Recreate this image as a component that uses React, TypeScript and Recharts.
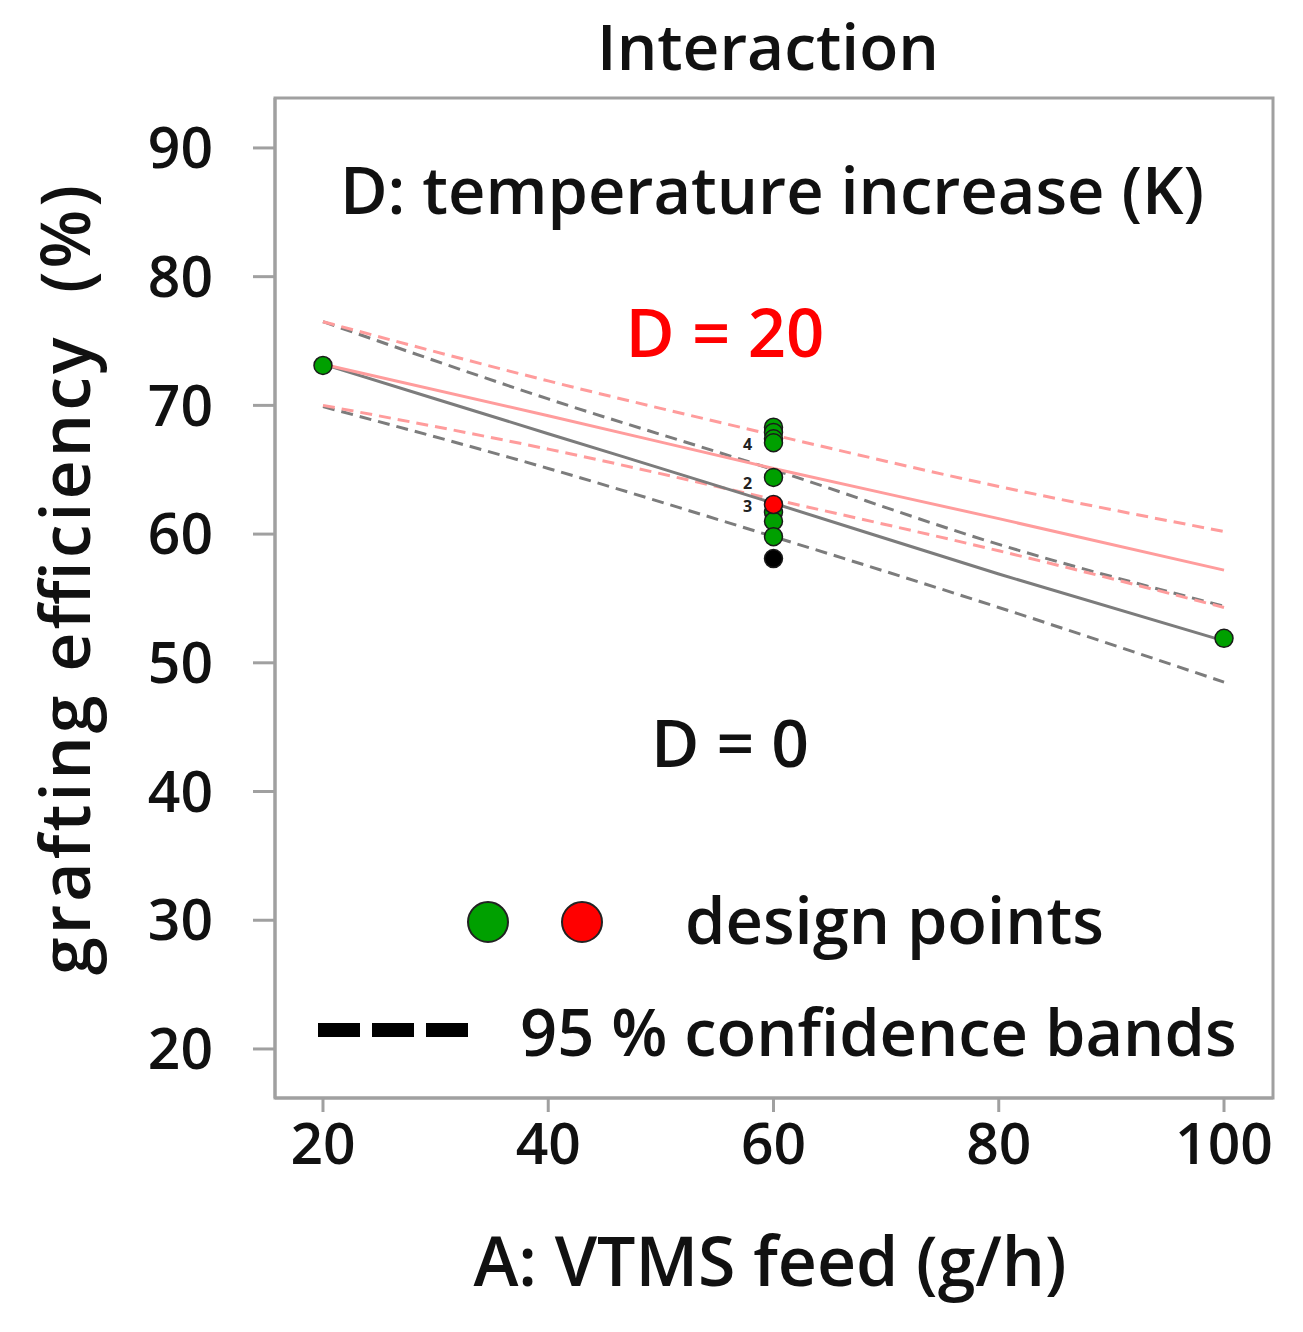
import React from 'react'
import { ComposedChart, Line, Scatter, XAxis, YAxis, ReferenceArea } from 'recharts'

// A: VTMS feed (g/h) positions where the curves were read
const feed = [20, 40, 60, 80, 100]

// D = 0 (grey) fit and 95 % band
const d0Fit = [73.2, 67.8, 62.4, 56.9, 51.7]
const d0Lower = [69.9, 65.1, 59.8, 54.3, 48.5]
const d0Upper = [76.5, 70.5, 65.0, 59.2, 54.4]

// D = 20 (red) fit and 95 % band
const d20Fit = [73.2, 69.2, 65.1, 61.2, 57.2]
const d20Lower = [70.0, 66.6, 62.7, 58.7, 54.3]
const d20Upper = [76.5, 71.9, 67.7, 63.7, 60.2]

// design points
const greenX = [20, 60, 60, 60, 60, 60, 60, 60, 60, 100]
const greenY = [73.1, 68.3, 67.9, 67.4, 67.1, 64.4, 61.7, 61.0, 59.8, 51.9]
const redX = [60]
const redY = [62.3]
const blackX = [60]
const blackY = [58.1]

// overlap counts shown beside the centre points
const countY = [67.0, 64.0, 62.2]
const countText = ['4', '2', '3']

const xTicks = [20, 40, 60, 80, 100]
const yTicks = [20, 30, 40, 50, 60, 70, 80, 90]

const series = (ys: number[]) => feed.map((x, i) => ({ x, y: ys[i] }))
const points = (xs: number[], ys: number[]) => xs.map((x, i) => ({ x, y: ys[i] }))

const FONT = "'Open Sans', Lato, sans-serif"
const AXIS = '#a0a0a0'
const GREY = '#7c7c7c'
const PINK = '#ff9c9c'

const dot = (fill: string) => (p: any) => (
  <circle cx={p.cx} cy={p.cy} r={9} fill={fill} stroke="#1a1a1a" strokeWidth={1.5} />
)

const countShape = (p: any) => (
  <text x={p.cx - 26} y={p.cy + 6} fontSize={16} fontWeight={700} fontFamily={FONT} fill="#222" textAnchor="middle">
    {p.payload.label}
  </text>
)

export default function App() {
  const tick = { fontSize: 57, fontWeight: 600, fontFamily: FONT, fill: '#111' }
  const counts = countY.map((y, i) => ({ x: 60, y, label: countText[i] }))

  return (
    <div style={{ position: 'absolute', left: 0, top: 0, width: 1303, height: 1332, background: '#fff' }}>
      <ComposedChart width={1303} height={1332} margin={{ top: 98, right: 30, bottom: 84, left: 75 }}>
        <XAxis
          type="number"
          dataKey="x"
          domain={[15.74, 104.35]}
          ticks={xTicks}
          allowDataOverflow
          height={150}
          tickSize={14}
          tickMargin={12}
          stroke={AXIS}
          strokeWidth={3}
          tick={tick}
        />
        <YAxis
          type="number"
          domain={[16.19, 93.88]}
          ticks={yTicks}
          allowDataOverflow
          width={200}
          tickSize={22}
          tickMargin={40}
          stroke={AXIS}
          strokeWidth={3}
          tick={tick}
        />
        <ReferenceArea x1={15.74} x2={104.35} y1={16.19} y2={93.88} fill="none" stroke={AXIS} strokeWidth={3} />

        <Line data={series(d0Upper)} dataKey="y" type="monotone" stroke={GREY} strokeWidth={3} strokeDasharray="12 7" dot={false} isAnimationActive={false} />
        <Line data={series(d0Lower)} dataKey="y" type="monotone" stroke={GREY} strokeWidth={3} strokeDasharray="12 7" dot={false} isAnimationActive={false} />
        <Line data={series(d20Upper)} dataKey="y" type="monotone" stroke={PINK} strokeWidth={3} strokeDasharray="12 7" dot={false} isAnimationActive={false} />
        <Line data={series(d20Lower)} dataKey="y" type="monotone" stroke={PINK} strokeWidth={3} strokeDasharray="12 7" dot={false} isAnimationActive={false} />
        <Line data={series(d0Fit)} dataKey="y" type="monotone" stroke={GREY} strokeWidth={3} dot={false} isAnimationActive={false} />
        <Line data={series(d20Fit)} dataKey="y" type="monotone" stroke={PINK} strokeWidth={3} dot={false} isAnimationActive={false} />

        <Scatter data={points(greenX, greenY)} dataKey="y" shape={dot('#00a000')} isAnimationActive={false} />
        <Scatter data={points(redX, redY)} dataKey="y" shape={dot('#ff0000')} isAnimationActive={false} />
        <Scatter data={points(blackX, blackY)} dataKey="y" shape={dot('#000000')} isAnimationActive={false} />
        <Scatter data={counts} dataKey="y" shape={countShape} isAnimationActive={false} />
      </ComposedChart>

      <svg width={1303} height={1332} style={{ position: 'absolute', left: 0, top: 0, pointerEvents: 'none' }} fontFamily={FONT} fontWeight={600}>
        <text x={768} y={70} fontSize={64} textAnchor="middle" fill="#111">Interaction</text>
        <text x={772} y={214} fontSize={65} textAnchor="middle" fill="#111">D: temperature increase (K)</text>
        <text x={725} y={357} fontSize={67} textAnchor="middle" fill="#ff0000">D = 20</text>
        <text x={730} y={767} fontSize={66} textAnchor="middle" fill="#111">D = 0</text>

        <circle cx={488} cy={922} r={20} fill="#00a000" stroke="#222" strokeWidth={2} />
        <circle cx={582} cy={922} r={20} fill="#ff0000" stroke="#222" strokeWidth={2} />
        <text x={685} y={944} fontSize={65} fill="#111">design points</text>
        <line x1={318} x2={468} y1={1030} y2={1030} stroke="#000" strokeWidth={14} strokeDasharray="42 12" />
        <text x={520} y={1056} fontSize={65} fill="#111">95 % confidence bands</text>

        <text transform="translate(90,580) rotate(-90)" fontSize={68} textAnchor="middle" fill="#111" textLength={790} style={{ whiteSpace: 'pre' }}>grafting efficiency  (%)</text>
        <text x={770} y={1286} fontSize={68} textAnchor="middle" fill="#111">A: VTMS feed (g/h)</text>
      </svg>
    </div>
  )
}
